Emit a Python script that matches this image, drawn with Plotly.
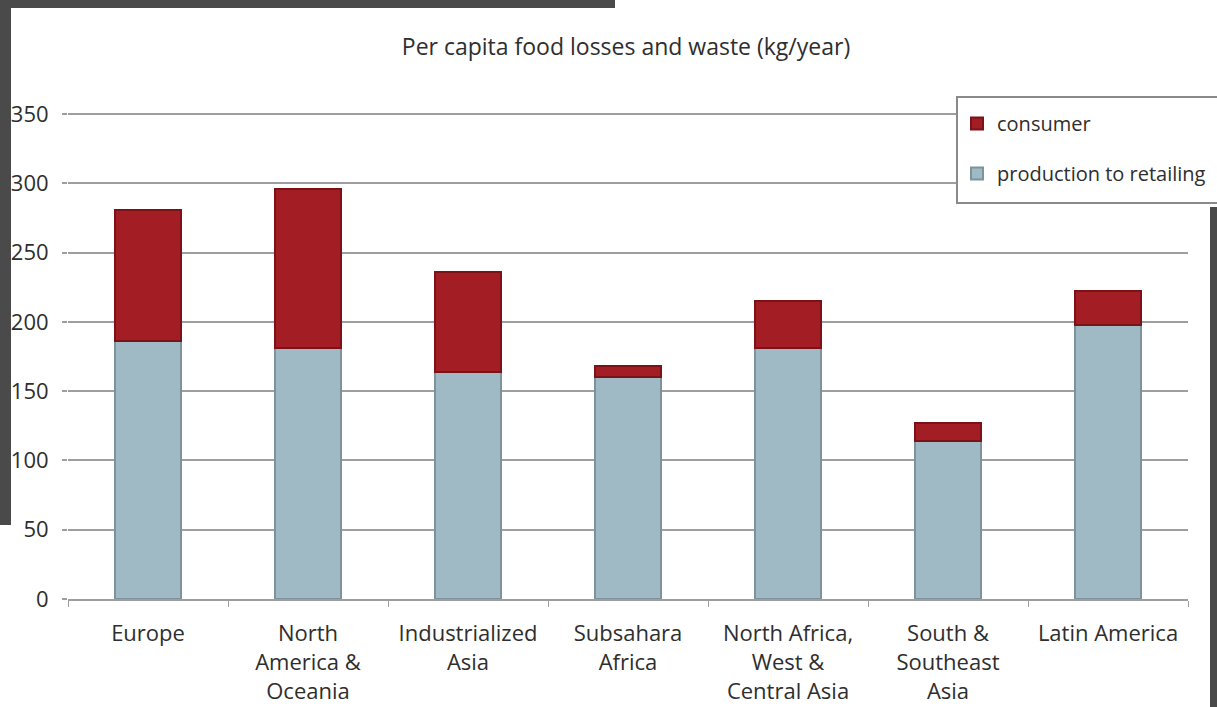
import plotly.graph_objects as go

regions = ["Europe", "North<br>America &<br>Oceania", "Industrialized<br>Asia",
           "Subsahara<br>Africa", "North Africa,<br>West &<br>Central Asia",
           "South &<br>Southeast<br>Asia", "Latin America"]
production_to_retailing = [186, 181, 164, 160, 181, 114, 198]
consumer = [95, 115, 72, 8, 34, 13, 24]
y_ticks = [0, 50, 100, 150, 200, 250, 300, 350]

W, H = 1217, 707
FONT = "Open Sans"
TXT = "#2e2e2e"
GRID = "#9e9e9e"

fig = go.Figure()
fig.add_trace(go.Bar(
    x=regions, y=production_to_retailing, name="production to retailing",
    marker=dict(color="#9fbac4", line=dict(color="#7d939c", width=2)),
    width=0.41, legendgroup="p", legendrank=2,
))
fig.add_trace(go.Bar(
    x=regions, y=consumer, name="consumer",
    marker=dict(color="#a31d24", line=dict(color="#7b1218", width=2)),
    width=0.41, legendgroup="c", legendrank=1,
))

# photo frame artefacts (dark borders) and the legend frame
dark = "#4a4a4a"
shapes = [
    dict(type="rect", xref="paper", yref="paper", x0=957 / W, x1=1.01, y0=1 - 203 / H,
         y1=1 - 97 / H, fillcolor="white", line=dict(color="#8a8a8a", width=2), layer="above"),
    dict(type="rect", xref="paper", yref="paper", x0=0, x1=615 / W, y0=1 - 8 / H, y1=1,
         fillcolor=dark, line=dict(width=0), layer="above"),
    dict(type="rect", xref="paper", yref="paper", x0=0, x1=11 / W, y0=1 - 525 / H, y1=1,
         fillcolor=dark, line=dict(width=0), layer="above"),
    dict(type="rect", xref="paper", yref="paper", x0=1210 / W, x1=1, y0=0, y1=1 - 207 / H,
         fillcolor=dark, line=dict(width=0), layer="above"),
]

px_per_unit = (599 - 114) / 350.0
y_top = 351
fig.update_layout(
    width=W, height=H,
    margin=dict(l=0, r=0, t=0, b=0, autoexpand=False),
    paper_bgcolor="white", plot_bgcolor="white",
    barmode="stack",
    font=dict(family=FONT, color=TXT, size=22),
    title=dict(text="Per capita food losses and waste (kg/year)", x=626 / W, xanchor="center",
               y=1 - 47 / H, yanchor="middle", font=dict(size=23, color=TXT, family=FONT)),
    xaxis=dict(domain=[68 / W, 1188 / W], automargin=False, showgrid=False, showline=True,
               linecolor=GRID, linewidth=2, ticks="outside", tickson="boundaries", ticklen=6,
               tickcolor=GRID, tickwidth=1, tickfont=dict(size=22, color=TXT), tickangle=0,
               ticklabelstandoff=14),
    yaxis=dict(domain=[(H - 599) / H, (H - 599 + y_top * px_per_unit) / H], range=[0, y_top],
               tickvals=y_ticks, automargin=False, showgrid=True, gridcolor=GRID, gridwidth=2,
               zeroline=False, showline=False, ticks="outside", ticklen=5, tickcolor=GRID,
               tickwidth=2, tickfont=dict(size=22, color=TXT), ticklabelstandoff=9),
    legend=dict(x=957 / W, y=1 - 104 / H, xanchor="left", yanchor="top",
                borderwidth=0, bgcolor="rgba(0,0,0,0)",
                font=dict(size=20, color=TXT, family=FONT), tracegroupgap=21,
                traceorder="grouped"),
    shapes=shapes,
)

fig.write_html("out.html")
